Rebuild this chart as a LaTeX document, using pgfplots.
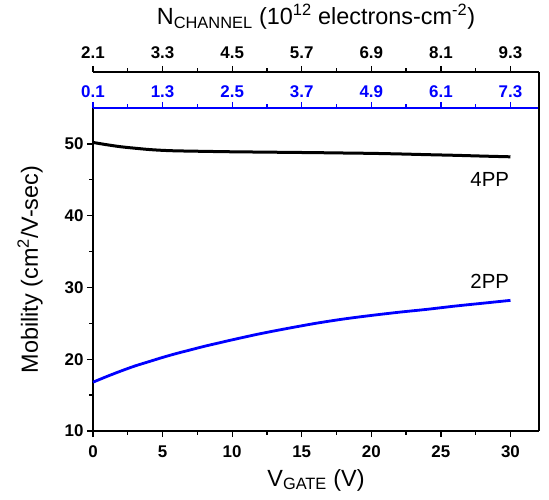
\documentclass[border=0pt]{standalone}
\usepackage{fontspec}
\setmainfont{Liberation Sans}
\usepackage{pgfplots}
\pgfplotsset{compat=1.18}
\definecolor{myblue}{RGB}{0,0,255}
\begin{document}
\begin{tikzpicture}
\path[use as bounding box] (-93bp,-69bp) rectangle (456bp,431bp);
\pgfplotsset{common/.style={width=446bp, scale only axis,
  xmin=0, xmax=32.05,
  /pgf/number format/assume math mode=true,
  tick label style={font=\fontsize{17}{18}\selectfont\bfseries},
  major tick length=6bp, minor tick length=3.5bp, tick align=outside,
  axis line style={-, line width=1.5bp},
  every tick/.style={line width=1.3bp},
  xtick={0,5,...,30}, minor x tick num=1,
  label style={font=\fontsize{23.5}{26}\selectfont}}}
% main axis
\begin{axis}[common, height=323bp, ymin=10, ymax=55,
  axis x line*=bottom, axis y line*=left,
  ytick={10,20,...,50}, minor y tick num=1,
  xticklabel style={yshift=-5bp},
  xlabel={V\textsubscript{GATE} (V)},
  ylabel={Mobility (cm\textsuperscript{2}/V-sec)},
  xlabel style={at={(axis description cs:0.5,-0.152)}, anchor=center},
  ylabel style={at={(axis description cs:-0.141,0.5)}, anchor=center},
  clip=false]
\addplot[black, line width=3bp, smooth] coordinates {
(0,50.2) (1,49.88) (2,49.6) (3,49.4) (4,49.22) (5,49.1) (6,49.03) (8,48.96)
(10,48.9) (12,48.86) (14,48.82) (16,48.78) (18,48.73) (20,48.68) (22,48.6)
(24,48.5) (26,48.41) (28,48.3) (30,48.2)};
\addplot[myblue, line width=2.8bp, smooth] coordinates {
(0,16.8) (1,17.6) (2,18.35) (3,19.05) (4,19.65) (5,20.25) (6,20.8) (7,21.3)
(8,21.8) (9,22.25) (10,22.7) (12,23.55) (14,24.3) (16,25.0) (18,25.6)
(20,26.1) (22,26.55) (24,26.95) (26,27.4) (28,27.8) (30,28.2)};
\node[anchor=east, font=\fontsize{20.5}{22}\selectfont] at (axis cs:30.15,45.05) {4PP};
\node[anchor=east, font=\fontsize{20.5}{22}\selectfont] at (axis cs:30.15,30.8) {2PP};
\end{axis}
% blue top axis
\begin{axis}[common, height=323bp, ymin=10, ymax=55,
  axis x line*=top, axis y line=none,
  xticklabels={0.1,1.3,2.5,3.7,4.9,6.1,7.3},
  x axis line style={myblue},
  every x tick/.style={myblue, line width=1.3bp},
  xticklabel style={text=myblue, yshift=1bp}]
\end{axis}
% black top axis
\begin{axis}[common, height=359bp, ymin=0, ymax=1,
  axis x line*=top, axis y line*=right, ytick=\empty,
  xticklabels={2.1,3.3,4.5,5.7,6.9,8.1,9.3},
  xticklabel style={yshift=4bp},
  xlabel={N\textsubscript{CHANNEL} (10\textsuperscript{12} electrons-cm\textsuperscript{-2})},
  xlabel style={at={(axis description cs:0.5,1)}, anchor=center, yshift=55bp}]
\end{axis}
\end{tikzpicture}
\end{document}
